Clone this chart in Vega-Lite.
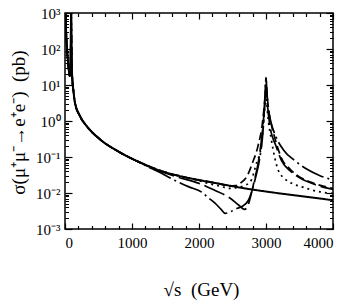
{
  "$schema": "https://vega.github.io/schema/vega-lite/v6.json",
  "width": 268,
  "height": 216,
  "autosize": {"type": "none"},
  "padding": {"left": 65, "top": 13, "right": 21, "bottom": 75},
  "background": "white",
  "config": {
    "view": {"stroke": "black", "strokeWidth": 1.5},
    "axis": {"labelFont": "Liberation Serif", "titleFont": "Liberation Serif", "labelColor": "black", "titleColor": "black", "tickColor": "black", "grid": false, "domain": false}
  },
  "datasets": {
    "dummy": [{"s": 2000, "v": 1}],
    "curves": [
      {"c":"SM","s":3,"v":9000},{"c":"SM","s":8,"v":1350},{"c":"SM","s":15,"v":390},{"c":"SM","s":25,"v":140},{"c":"SM","s":40,"v":55},{"c":"SM","s":55,"v":28},{"c":"SM","s":70,"v":18},{"c":"SM","s":80,"v":22},{"c":"SM","s":85,"v":70},{"c":"SM","s":88,"v":400},{"c":"SM","s":91.2,"v":2000},{"c":"SM","s":94,"v":500},{"c":"SM","s":97,"v":120},{"c":"SM","s":100,"v":45},{"c":"SM","s":110,"v":14},{"c":"SM","s":124,"v":7.4},{"c":"SM","s":149,"v":3.2},{"c":"SM","s":224,"v":1.36},{"c":"SM","s":324,"v":0.72},{"c":"SM","s":522,"v":0.31},{"c":"SM","s":821,"v":0.134},
      {"c":"SM","s":1119,"v":0.071},{"c":"SM","s":1418,"v":0.042},{"c":"SM","s":1700,"v":0.030},{"c":"SM","s":1915,"v":0.0246},{"c":"SM","s":2313,"v":0.0179},{"c":"SM","s":2700,"v":0.0133},{"c":"SM","s":3060,"v":0.0106},{"c":"SM","s":3500,"v":0.0083},{"c":"SM","s":4000,"v":0.0063},

      {"c":"A","s":3,"v":9000},{"c":"A","s":8,"v":1350},{"c":"A","s":15,"v":390},{"c":"A","s":25,"v":140},{"c":"A","s":40,"v":55},{"c":"A","s":55,"v":28},{"c":"A","s":70,"v":18},{"c":"A","s":80,"v":22},{"c":"A","s":85,"v":70},{"c":"A","s":88,"v":400},{"c":"A","s":91.2,"v":2000},{"c":"A","s":94,"v":500},{"c":"A","s":97,"v":120},{"c":"A","s":100,"v":45},{"c":"A","s":110,"v":14},{"c":"A","s":124,"v":7.4},{"c":"A","s":149,"v":3.2},{"c":"A","s":224,"v":1.36},{"c":"A","s":324,"v":0.72},{"c":"A","s":522,"v":0.31},{"c":"A","s":821,"v":0.134},
      {"c":"A","s":1000,"v":0.089},{"c":"A","s":1200,"v":0.058},{"c":"A","s":1418,"v":0.037},{"c":"A","s":1642,"v":0.0222},{"c":"A","s":1850,"v":0.0148},{"c":"A","s":2040,"v":0.0106},{"c":"A","s":2134,"v":0.0075},{"c":"A","s":2239,"v":0.0052},{"c":"A","s":2330,"v":0.0035},{"c":"A","s":2390,"v":0.0027},{"c":"A","s":2450,"v":0.0029},{"c":"A","s":2563,"v":0.0037},{"c":"A","s":2637,"v":0.0042},{"c":"A","s":2736,"v":0.0062},{"c":"A","s":2840,"v":0.025},{"c":"A","s":2910,"v":0.1},{"c":"A","s":2950,"v":0.4},{"c":"A","s":2980,"v":3},{"c":"A","s":3000,"v":15},{"c":"A","s":3015,"v":6},{"c":"A","s":3035,"v":2.2},{"c":"A","s":3060,"v":1.2},{"c":"A","s":3150,"v":0.36},{"c":"A","s":3258,"v":0.16},{"c":"A","s":3433,"v":0.0785},{"c":"A","s":3600,"v":0.047},{"c":"A","s":3806,"v":0.0303},{"c":"A","s":4000,"v":0.023},

      {"c":"B","s":3,"v":9000},{"c":"B","s":8,"v":1350},{"c":"B","s":15,"v":390},{"c":"B","s":25,"v":140},{"c":"B","s":40,"v":55},{"c":"B","s":55,"v":28},{"c":"B","s":70,"v":18},{"c":"B","s":80,"v":22},{"c":"B","s":85,"v":70},{"c":"B","s":88,"v":400},{"c":"B","s":91.2,"v":2000},{"c":"B","s":94,"v":500},{"c":"B","s":97,"v":120},{"c":"B","s":100,"v":45},{"c":"B","s":110,"v":14},{"c":"B","s":124,"v":7.4},{"c":"B","s":149,"v":3.2},{"c":"B","s":224,"v":1.36},{"c":"B","s":324,"v":0.72},{"c":"B","s":522,"v":0.31},{"c":"B","s":821,"v":0.134},
      {"c":"B","s":1000,"v":0.090},{"c":"B","s":1119,"v":0.070},{"c":"B","s":1418,"v":0.040},{"c":"B","s":1700,"v":0.027},{"c":"B","s":2000,"v":0.0185},{"c":"B","s":2240,"v":0.0117},{"c":"B","s":2450,"v":0.0075},{"c":"B","s":2600,"v":0.0045},{"c":"B","s":2680,"v":0.0035},{"c":"B","s":2730,"v":0.0045},{"c":"B","s":2761,"v":0.0069},{"c":"B","s":2820,"v":0.02},{"c":"B","s":2885,"v":0.071},{"c":"B","s":2940,"v":0.4},{"c":"B","s":2975,"v":2},{"c":"B","s":3000,"v":9},{"c":"B","s":3020,"v":3},{"c":"B","s":3060,"v":0.7},{"c":"B","s":3150,"v":0.2},{"c":"B","s":3234,"v":0.0785},{"c":"B","s":3358,"v":0.0417},{"c":"B","s":3478,"v":0.0281},{"c":"B","s":3700,"v":0.018},{"c":"B","s":3955,"v":0.0131},{"c":"B","s":4000,"v":0.0125},

      {"c":"C","s":3,"v":9000},{"c":"C","s":8,"v":1350},{"c":"C","s":15,"v":390},{"c":"C","s":25,"v":140},{"c":"C","s":40,"v":55},{"c":"C","s":55,"v":28},{"c":"C","s":70,"v":18},{"c":"C","s":80,"v":22},{"c":"C","s":85,"v":70},{"c":"C","s":88,"v":400},{"c":"C","s":91.2,"v":2000},{"c":"C","s":94,"v":500},{"c":"C","s":97,"v":120},{"c":"C","s":100,"v":45},{"c":"C","s":110,"v":14},{"c":"C","s":124,"v":7.4},{"c":"C","s":149,"v":3.2},{"c":"C","s":224,"v":1.36},{"c":"C","s":324,"v":0.72},{"c":"C","s":522,"v":0.31},{"c":"C","s":821,"v":0.134},
      {"c":"C","s":1119,"v":0.071},{"c":"C","s":1418,"v":0.042},{"c":"C","s":1700,"v":0.030},{"c":"C","s":1915,"v":0.0246},{"c":"C","s":2313,"v":0.0179},{"c":"C","s":2450,"v":0.0155},{"c":"C","s":2550,"v":0.016},{"c":"C","s":2637,"v":0.02},{"c":"C","s":2720,"v":0.03},{"c":"C","s":2800,"v":0.07},{"c":"C","s":2880,"v":0.2},{"c":"C","s":2950,"v":1},{"c":"C","s":2985,"v":5},{"c":"C","s":3000,"v":16},{"c":"C","s":3015,"v":6},{"c":"C","s":3040,"v":2},{"c":"C","s":3080,"v":0.8},{"c":"C","s":3150,"v":0.26},{"c":"C","s":3234,"v":0.09},{"c":"C","s":3358,"v":0.046},{"c":"C","s":3478,"v":0.030},{"c":"C","s":3700,"v":0.019},{"c":"C","s":4000,"v":0.0135},

      {"c":"D","s":3,"v":9000},{"c":"D","s":8,"v":1350},{"c":"D","s":15,"v":390},{"c":"D","s":25,"v":140},{"c":"D","s":40,"v":55},{"c":"D","s":55,"v":28},{"c":"D","s":70,"v":18},{"c":"D","s":80,"v":22},{"c":"D","s":85,"v":70},{"c":"D","s":88,"v":400},{"c":"D","s":91.2,"v":2000},{"c":"D","s":94,"v":500},{"c":"D","s":97,"v":120},{"c":"D","s":100,"v":45},{"c":"D","s":110,"v":14},{"c":"D","s":124,"v":7.4},{"c":"D","s":149,"v":3.2},{"c":"D","s":224,"v":1.36},{"c":"D","s":324,"v":0.72},{"c":"D","s":522,"v":0.31},{"c":"D","s":821,"v":0.134},
      {"c":"D","s":1119,"v":0.071},{"c":"D","s":1418,"v":0.042},{"c":"D","s":1700,"v":0.030},{"c":"D","s":1915,"v":0.0246},{"c":"D","s":2134,"v":0.0185},{"c":"D","s":2313,"v":0.0155},{"c":"D","s":2450,"v":0.0135},{"c":"D","s":2600,"v":0.0145},{"c":"D","s":2761,"v":0.02},{"c":"D","s":2861,"v":0.07},{"c":"D","s":2930,"v":0.2},{"c":"D","s":2970,"v":1.2},{"c":"D","s":3000,"v":6},{"c":"D","s":3025,"v":1.5},{"c":"D","s":3080,"v":0.3},{"c":"D","s":3179,"v":0.045},{"c":"D","s":3284,"v":0.0246},{"c":"D","s":3403,"v":0.0179},{"c":"D","s":3537,"v":0.0148},{"c":"D","s":3657,"v":0.0125},{"c":"D","s":3776,"v":0.011},{"c":"D","s":3910,"v":0.0101},{"c":"D","s":4000,"v":0.0097}
    ]
  },
  "resolve": {"axis": {"x": "independent", "y": "independent"}},
  "layer": [
    {
      "data": {"name": "curves"},
      "mark": {"type": "line", "interpolate": "monotone", "clip": true, "color": "black"},
      "encoding": {
        "x": {"field": "s", "type": "quantitative", "scale": {"domain": [0, 4000], "nice": false},
          "axis": {"orient": "bottom", "values": [0, 1000, 2000, 3000, 4000], "format": "d", "ticks": false, "labelPadding": 6, "labelFontSize": 15, "labelOverlap": false,
            "title": "√s\u00a0\u00a0(GeV)", "titleFontSize": 19, "titleFontWeight": "normal", "titleX": 136, "titleY": 66, "titleBaseline": "alphabetic", "titleAlign": "center"}},
        "y": {"field": "v", "type": "quantitative", "scale": {"type": "log", "domain": [0.001, 1000], "nice": false},
          "axis": {"orient": "left", "values": [0.001, 0.01, 0.1, 1, 10, 100, 1000], "ticks": false, "labelPadding": 5, "labelFontSize": 15, "labelOverlap": false,
            "labelExpr": "datum.value >= 999 ? '10³' : datum.value >= 99 ? '10²' : datum.value >= 9 ? '10¹' : datum.value >= 0.9 ? '10⁰' : datum.value >= 0.09 ? '10⁻¹' : datum.value >= 0.009 ? '10⁻²' : '10⁻³'",
            "title": "σ(μ⁺μ⁻→e⁺e⁻)\u00a0\u00a0(pb)", "titleFontSize": 19, "titleFontWeight": "normal", "titleAngle": -90, "titleX": -47, "titleY": 109, "titleBaseline": "middle", "titleAlign": "center"}},
        "strokeDash": {"field": "c", "type": "nominal", "legend": null,
          "scale": {"domain": ["SM", "A", "B", "C", "D"], "range": [[1, 0], [24, 4, 2, 4], [22, 5], [8, 4], [2, 4]]}},
        "strokeWidth": {"condition": {"test": "datum.c === 'SM'", "value": 2}, "value": 1.7}
      }
    },
    {
      "data": {"name": "dummy"},
      "mark": {"type": "point", "opacity": 0},
      "encoding": {
        "x": {"field": "s", "type": "quantitative", "scale": {"domain": [0, 4000], "nice": false},
          "axis": {"orient": "top", "offset": -216, "values": [0, 1000, 2000, 3000, 4000], "labels": false, "tickSize": 6, "tickWidth": 1.2, "title": null}},
        "y": {"field": "v", "type": "quantitative", "scale": {"type": "log", "domain": [0.001, 1000], "nice": false},
          "axis": {"orient": "right", "offset": -268, "values": [0.001, 0.01, 0.1, 1, 10, 100, 1000], "labels": false, "tickSize": 7, "tickWidth": 1.2, "title": null}}
      }
    },
    {
      "data": {"name": "dummy"},
      "mark": {"type": "point", "opacity": 0},
      "encoding": {
        "x": {"field": "s", "type": "quantitative", "scale": {"domain": [0, 4000], "nice": false},
          "axis": {"orient": "top", "offset": -216, "values": [200, 400, 600, 800, 1200, 1400, 1600, 1800, 2200, 2400, 2600, 2800, 3200, 3400, 3600, 3800], "labels": false, "tickSize": 3.5, "tickWidth": 1.2, "title": null}},
        "y": {"field": "v", "type": "quantitative", "scale": {"type": "log", "domain": [0.001, 1000], "nice": false},
          "axis": {"orient": "right", "offset": -268, "values": [0.002,0.003,0.004,0.005,0.006,0.007,0.008,0.009,0.02,0.03,0.04,0.05,0.06,0.07,0.08,0.09,0.2,0.3,0.4,0.5,0.6,0.7,0.8,0.9,2,3,4,5,6,7,8,9,20,30,40,50,60,70,80,90,200,300,400,500,600,700,800,900], "labels": false, "tickSize": 3.5, "tickWidth": 1, "title": null}}
      }
    },
    {
      "data": {"name": "dummy"},
      "mark": {"type": "point", "opacity": 0},
      "encoding": {
        "x": {"field": "s", "type": "quantitative", "scale": {"domain": [0, 4000], "nice": false},
          "axis": {"orient": "bottom", "offset": -216, "values": [0, 1000, 2000, 3000, 4000], "labels": false, "tickSize": 6, "tickWidth": 1.2, "title": null}},
        "y": {"field": "v", "type": "quantitative", "scale": {"type": "log", "domain": [0.001, 1000], "nice": false},
          "axis": {"orient": "left", "offset": -268, "values": [0.001, 0.01, 0.1, 1, 10, 100, 1000], "labels": false, "tickSize": 7, "tickWidth": 1.2, "title": null}}
      }
    },
    {
      "data": {"name": "dummy"},
      "mark": {"type": "point", "opacity": 0},
      "encoding": {
        "x": {"field": "s", "type": "quantitative", "scale": {"domain": [0, 4000], "nice": false},
          "axis": {"orient": "bottom", "offset": -216, "values": [200, 400, 600, 800, 1200, 1400, 1600, 1800, 2200, 2400, 2600, 2800, 3200, 3400, 3600, 3800], "labels": false, "tickSize": 3.5, "tickWidth": 1.2, "title": null}},
        "y": {"field": "v", "type": "quantitative", "scale": {"type": "log", "domain": [0.001, 1000], "nice": false},
          "axis": {"orient": "left", "offset": -268, "values": [0.002,0.003,0.004,0.005,0.006,0.007,0.008,0.009,0.02,0.03,0.04,0.05,0.06,0.07,0.08,0.09,0.2,0.3,0.4,0.5,0.6,0.7,0.8,0.9,2,3,4,5,6,7,8,9,20,30,40,50,60,70,80,90,200,300,400,500,600,700,800,900], "labels": false, "tickSize": 3.5, "tickWidth": 1, "title": null}}
      }
    }
  ]
}
